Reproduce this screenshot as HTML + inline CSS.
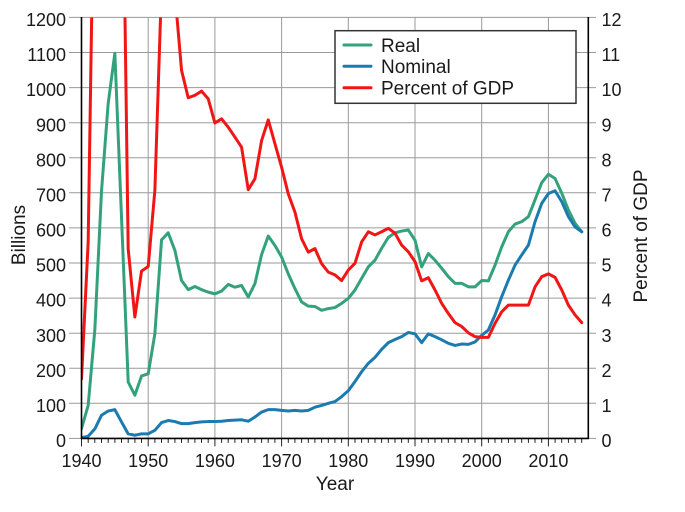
<!DOCTYPE html>
<html><head><meta charset="utf-8"><style>
html,body{margin:0;padding:0;background:#fff;}
svg{display:block;}
text{font-family:"Liberation Sans",Arial,sans-serif;fill:#1a1a1a;}
</style></head><body>
<svg width="685" height="512" viewBox="0 0 685 512" xmlns="http://www.w3.org/2000/svg">
<defs><clipPath id="pc"><rect x="81.5" y="17.4" width="506.8" height="421"/></clipPath></defs>
<!-- horizontal gridlines -->
<g stroke="#9a9a9a" stroke-width="1">
<line x1="69" x2="596" y1="17.4" y2="17.4"/>
<line x1="69" x2="596" y1="52.5" y2="52.5"/>
<line x1="69" x2="596" y1="87.6" y2="87.6"/>
<line x1="69" x2="596" y1="122.7" y2="122.7"/>
<line x1="69" x2="596" y1="157.7" y2="157.7"/>
<line x1="69" x2="596" y1="192.8" y2="192.8"/>
<line x1="69" x2="596" y1="227.9" y2="227.9"/>
<line x1="69" x2="596" y1="263.0" y2="263.0"/>
<line x1="69" x2="596" y1="298.1" y2="298.1"/>
<line x1="69" x2="596" y1="333.2" y2="333.2"/>
<line x1="69" x2="596" y1="368.2" y2="368.2"/>
<line x1="69" x2="596" y1="403.3" y2="403.3"/>
<line x1="69" x2="81.5" y1="438.4" y2="438.4"/>
<line x1="588.3" x2="596" y1="438.4" y2="438.4"/>
<!-- vertical gridlines -->
<line x1="148.2" x2="148.2" y1="17.4" y2="438.4"/>
<line x1="214.9" x2="214.9" y1="17.4" y2="438.4"/>
<line x1="281.6" x2="281.6" y1="17.4" y2="438.4"/>
<line x1="348.3" x2="348.3" y1="17.4" y2="438.4"/>
<line x1="415.0" x2="415.0" y1="17.4" y2="438.4"/>
<line x1="481.7" x2="481.7" y1="17.4" y2="438.4"/>
<line x1="548.4" x2="548.4" y1="17.4" y2="438.4"/>
</g>
<!-- bottom ticks -->
<g stroke="#222" stroke-width="1">
<path d="M88.2 438.4v4.5M94.8 438.4v4.5M101.5 438.4v4.5M108.2 438.4v4.5M114.9 438.4v4.5M121.5 438.4v4.5M128.2 438.4v4.5M134.9 438.4v4.5M141.5 438.4v4.5
M154.9 438.4v4.5M161.5 438.4v4.5M168.2 438.4v4.5M174.9 438.4v4.5M181.5 438.4v4.5M188.2 438.4v4.5M194.9 438.4v4.5M201.5 438.4v4.5M208.2 438.4v4.5
M221.6 438.4v4.5M228.2 438.4v4.5M234.9 438.4v4.5M241.6 438.4v4.5M248.2 438.4v4.5M254.9 438.4v4.5M261.6 438.4v4.5M268.2 438.4v4.5M274.9 438.4v4.5
M288.3 438.4v4.5M294.9 438.4v4.5M301.6 438.4v4.5M308.3 438.4v4.5M314.9 438.4v4.5M321.6 438.4v4.5M328.3 438.4v4.5M334.9 438.4v4.5M341.6 438.4v4.5
M355.0 438.4v4.5M361.6 438.4v4.5M368.3 438.4v4.5M375.0 438.4v4.5M381.6 438.4v4.5M388.3 438.4v4.5M395.0 438.4v4.5M401.6 438.4v4.5M408.3 438.4v4.5
M421.7 438.4v4.5M428.3 438.4v4.5M435.0 438.4v4.5M441.7 438.4v4.5M448.3 438.4v4.5M455.0 438.4v4.5M461.7 438.4v4.5M468.3 438.4v4.5M475.0 438.4v4.5
M488.4 438.4v4.5M495.0 438.4v4.5M501.7 438.4v4.5M508.4 438.4v4.5M515.0 438.4v4.5M521.7 438.4v4.5M528.4 438.4v4.5M535.0 438.4v4.5M541.7 438.4v4.5
M555.1 438.4v4.5M561.7 438.4v4.5M568.4 438.4v4.5M575.1 438.4v4.5M581.7 438.4v4.5
M81.5 438.4v8M148.2 438.4v8M214.9 438.4v8M281.6 438.4v8M348.3 438.4v8M415.0 438.4v8M481.7 438.4v8M548.4 438.4v8"/>
</g>
<!-- series -->
<g clip-path="url(#pc)">
<g transform="translate(81.5,438.4) scale(6.67,-0.3508)" fill="none" stroke-width="3" stroke-linejoin="round" stroke-linecap="round">
<polyline vector-effect="non-scaling-stroke" stroke="#33a27c" points="0,28 1,94 2,310 3,705 4,955 5,1098 6,630 7,161 8,123 9,178 10,184 11,298 12,566 13,586 14,536 15,450 16,424 17,433 18,424 19,417 20,412 21,420 22,439 23,431 24,436 25,403 26,441 27,524 28,577 29,550 30,517 31,469 32,427 33,389 34,377 35,376 36,365 37,370 38,373 39,385 40,399 41,423 42,456 43,489 44,508 45,542 46,573 47,586 48,591 49,594 50,565 51,489 52,527 53,508 54,485 55,461 56,442 57,442 58,432 59,432 60,450 61,449 62,494 63,546 64,589 65,611 66,618 67,632 68,680 69,729 70,753 71,741 72,699 73,651 74,613 75,589"/>
<polyline vector-effect="non-scaling-stroke" stroke="#1b7bb0" points="0,2 1,6 2,27 3,66 4,78 5,82 6,47 7,13 8,9 9,13 10,13 11,23 12,45 13,51 14,48 15,42 16,42 17,45 18,47 19,48 20,48 21,49 22,51 23,52 24,53 25,49 26,61 27,75 28,82 29,82 30,80 31,78 32,80 33,78 34,80 35,89 36,94 37,100 38,105 39,119 40,136 41,162 42,190 43,214 44,231 45,254 46,273 47,282 48,290 49,302 50,298 51,273 52,298 53,290 54,281 55,271 56,265 57,269 58,268 59,275 60,294 61,309 62,352 63,404 64,451 65,494 66,523 67,551 68,618 69,670 70,698 71,706 72,675 73,632 74,603 75,589"/>
<polyline vector-effect="non-scaling-stroke" stroke="#f21515" points="0,170 1,560 2,1780 3,3700 4,3780 5,3750 6,1920 7,540 8,346 9,477 10,490 11,707 12,1290 13,1380 14,1270 15,1049 16,971 17,978 18,990 19,968 20,899 21,911 22,887 23,859 24,830 25,709 26,740 27,849 28,908 29,840 30,773 31,697 32,645 33,569 34,531 35,541 36,498 37,474 38,466 39,450 40,480 41,499 42,560 43,589 44,580 45,589 46,599 47,585 48,551 49,532 50,504 51,449 52,458 53,423 54,385 55,356 56,330 57,319 58,301 59,290 60,288 61,288 62,328 63,361 64,380 65,380 66,380 67,380 68,432 69,461 70,469 71,459 72,423 73,380 74,352 75,330"/>
</g>
</g>
<!-- axes -->
<g stroke="#000" stroke-width="1.6" fill="none">
<line x1="81.5" y1="17" x2="81.5" y2="439"/>
<line x1="588.3" y1="17" x2="588.3" y2="439"/>
<line x1="81" y1="438.4" x2="589" y2="438.4"/>
</g>
<!-- left tick labels -->
<g font-size="18" text-anchor="end">
<text x="66" y="26">1200</text>
<text x="66" y="61.1">1100</text>
<text x="66" y="96.2">1000</text>
<text x="66" y="131.3">900</text>
<text x="66" y="166.3">800</text>
<text x="66" y="201.4">700</text>
<text x="66" y="236.5">600</text>
<text x="66" y="271.6">500</text>
<text x="66" y="306.7">400</text>
<text x="66" y="341.8">300</text>
<text x="66" y="376.8">200</text>
<text x="66" y="411.9">100</text>
<text x="66" y="447">0</text>
</g>
<!-- right tick labels -->
<g font-size="18" text-anchor="start">
<text x="601.5" y="26">12</text>
<text x="601.5" y="61.1">11</text>
<text x="601.5" y="96.2">10</text>
<text x="601.5" y="131.3">9</text>
<text x="601.5" y="166.3">8</text>
<text x="601.5" y="201.4">7</text>
<text x="601.5" y="236.5">6</text>
<text x="601.5" y="271.6">5</text>
<text x="601.5" y="306.7">4</text>
<text x="601.5" y="341.8">3</text>
<text x="601.5" y="376.8">2</text>
<text x="601.5" y="411.9">1</text>
<text x="601.5" y="447">0</text>
</g>
<!-- bottom tick labels -->
<g font-size="18" text-anchor="middle">
<text x="81.5" y="467">1940</text>
<text x="148.2" y="467">1950</text>
<text x="214.9" y="467">1960</text>
<text x="281.6" y="467">1970</text>
<text x="348.3" y="467">1980</text>
<text x="415.0" y="467">1990</text>
<text x="481.7" y="467">2000</text>
<text x="548.4" y="467">2010</text>
</g>
<!-- axis titles -->
<text x="335" y="490" font-size="19" text-anchor="middle">Year</text>
<text transform="translate(25,235) rotate(-90)" font-size="19" text-anchor="middle">Billions</text>
<text transform="translate(647,236) rotate(-90)" font-size="19" text-anchor="middle">Percent of GDP</text>
<!-- legend -->
<rect x="335" y="30.7" width="241" height="72.6" fill="#fff" stroke="#333" stroke-width="1.5"/>
<g stroke-width="3" stroke-linecap="round">
<line x1="344" x2="371" y1="45" y2="45" stroke="#33a27c"/>
<line x1="344" x2="371" y1="66.3" y2="66.3" stroke="#1b7bb0"/>
<line x1="344" x2="371" y1="87.7" y2="87.7" stroke="#f21515"/>
</g>
<g font-size="19">
<text x="381" y="51.8">Real</text>
<text x="381" y="73.1">Nominal</text>
<text x="381" y="94.5">Percent of GDP</text>
</g>
</svg>
</body></html>
